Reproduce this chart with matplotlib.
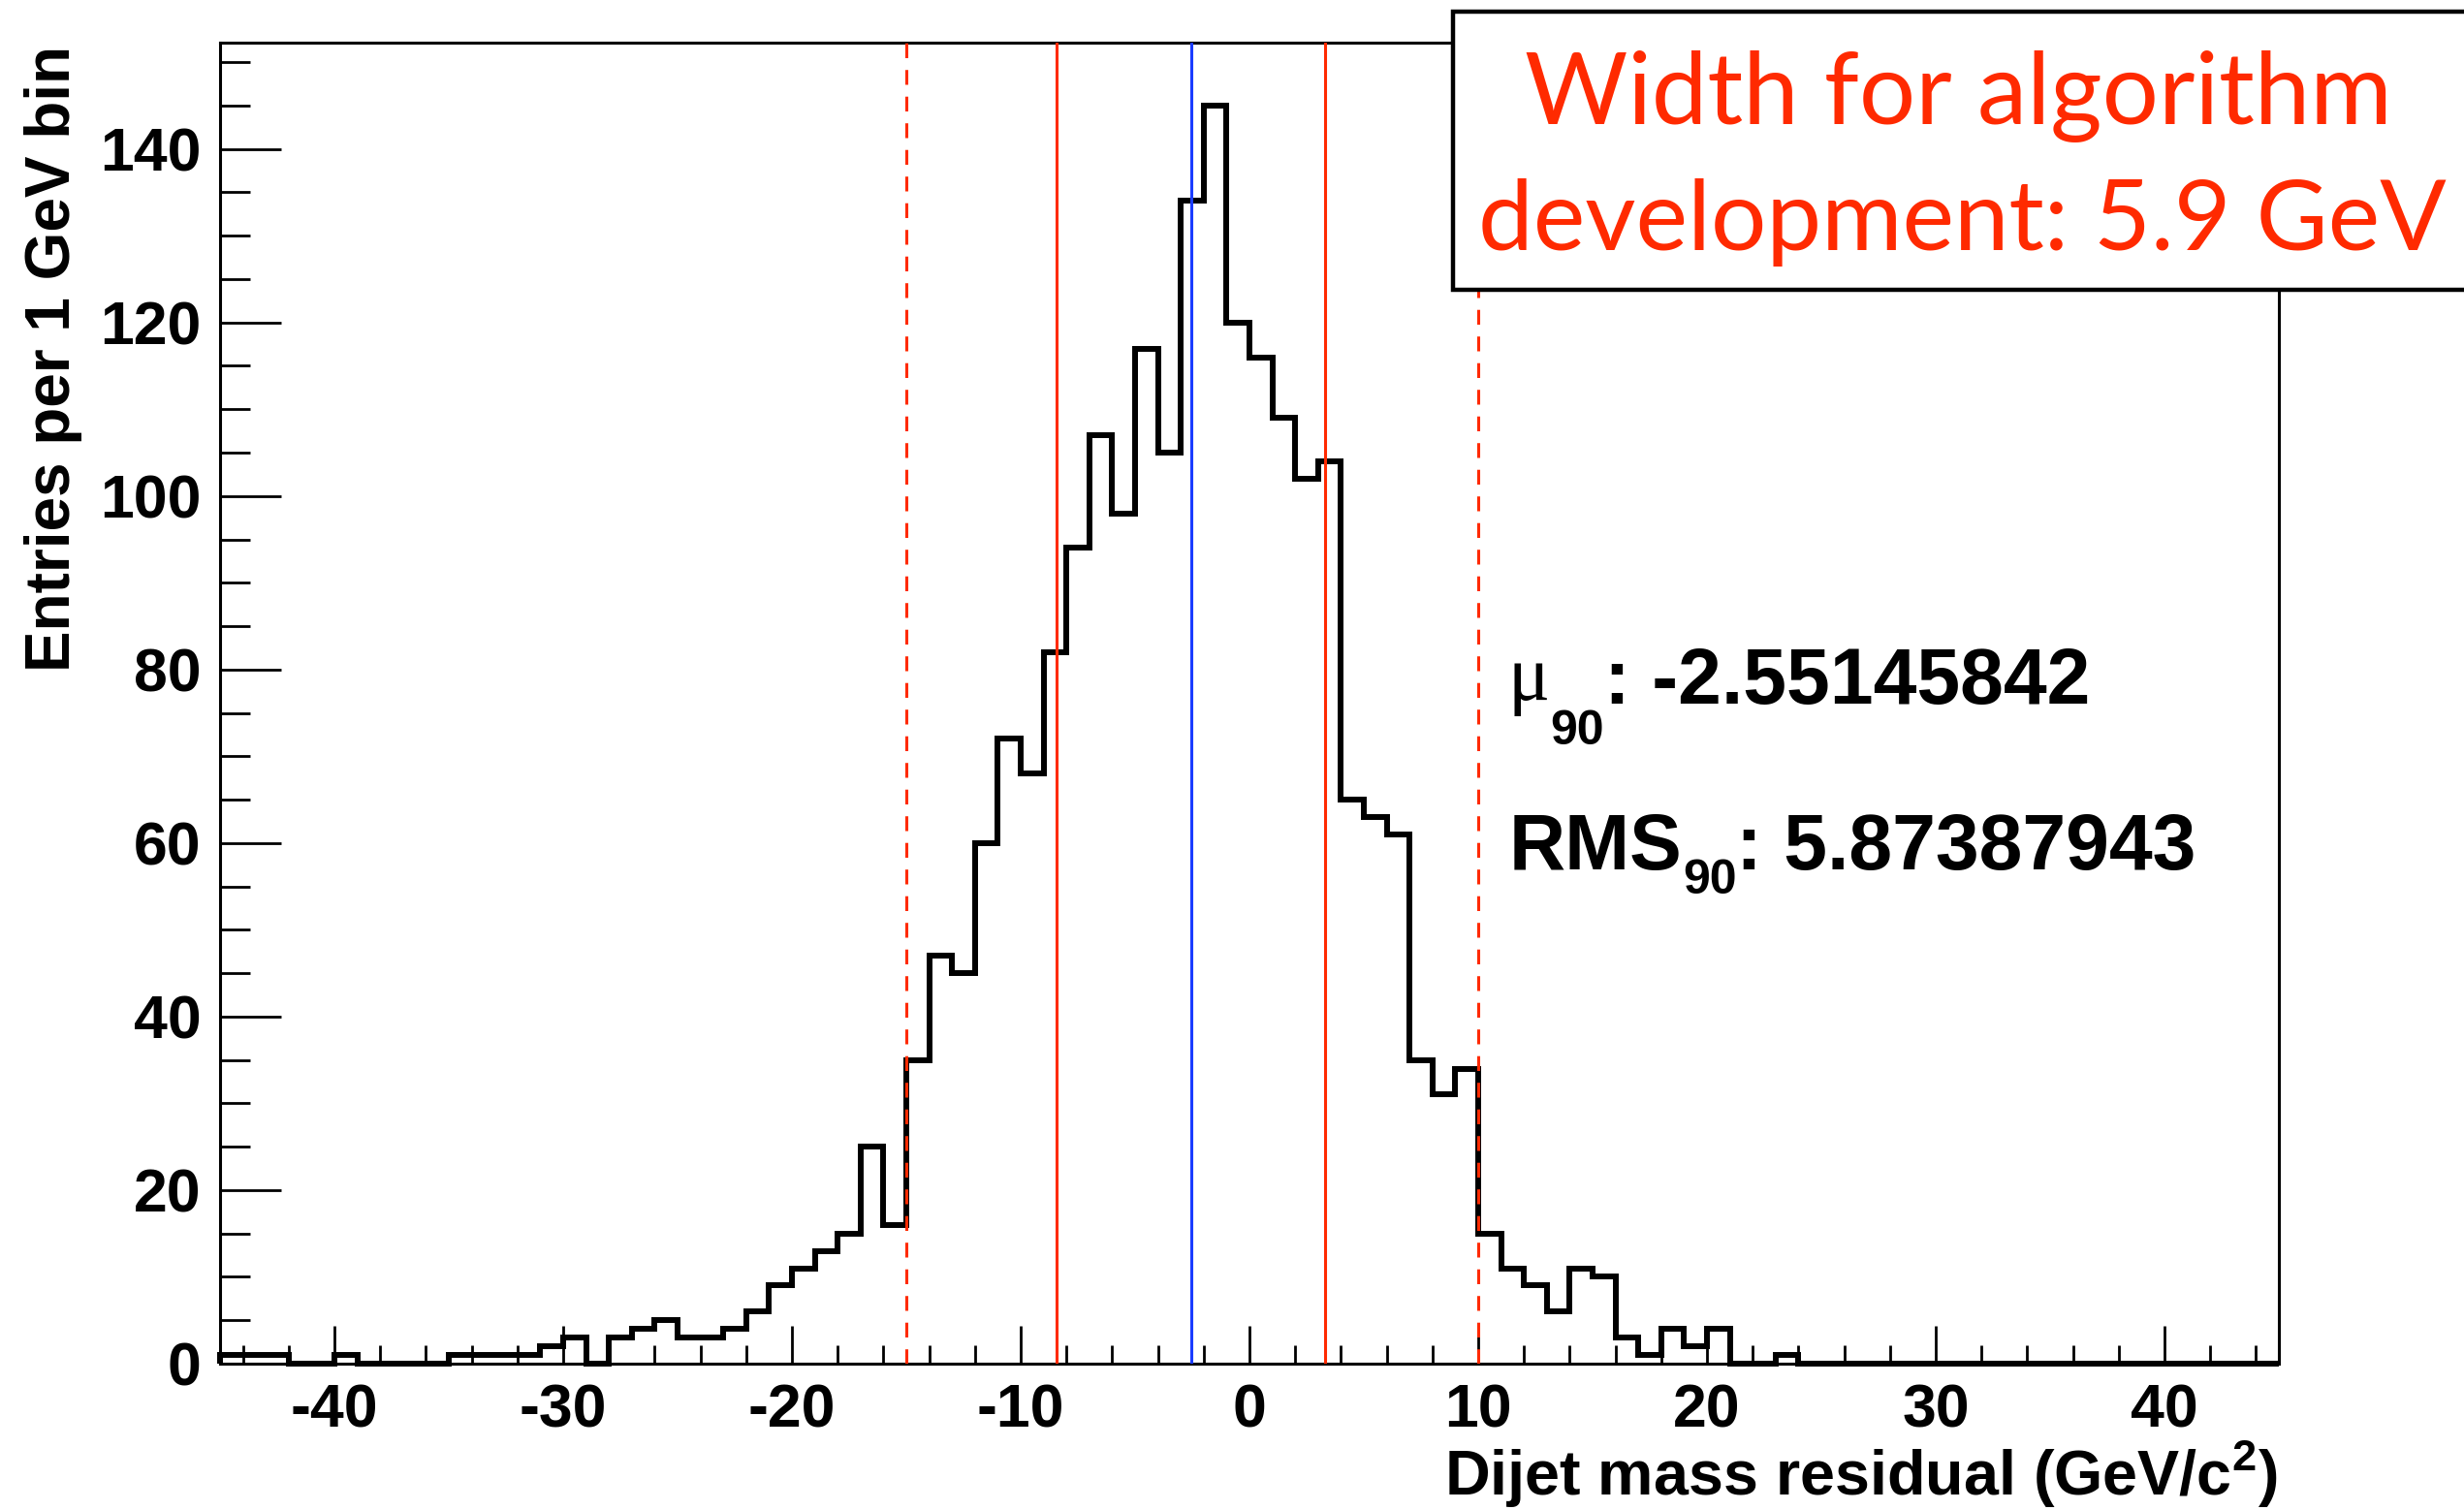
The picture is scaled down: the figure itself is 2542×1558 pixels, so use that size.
import numpy as np
import matplotlib
matplotlib.use("Agg")
import matplotlib.pyplot as plt
from matplotlib.patches import Rectangle

plt.rcParams['font.family'] = ['Liberation Sans', 'DejaVu Sans']
plt.rcParams['font.weight'] = 'bold'
plt.rcParams['axes.unicode_minus'] = False
plt.rcParams['mathtext.fontset'] = 'custom'
plt.rcParams['mathtext.rm'] = 'Liberation Sans'

# dijet mass residual histogram, 1 GeV bins from -45 to 45
bin_edges = np.arange(-45, 46)
counts = [
    1, 1, 1, 0, 0, 1, 0, 0, 0, 0,
    1, 1, 1, 1, 2, 3, 0, 3, 4, 5,
    3, 3, 4, 6, 9, 11, 13, 15, 25, 16,
    35, 47, 45, 60, 72, 68, 82, 94, 107, 98,
    117, 105, 134, 145, 120, 116, 109, 102, 104, 65,
    63, 61, 35, 31, 34, 15, 11, 9, 6, 11,
    10, 3, 1, 4, 2, 4, 0, 0, 1, 0,
    0, 0, 0, 0, 0, 0, 0, 0, 0, 0,
    0, 0, 0, 0, 0, 0, 0, 0, 0, 0,
]
mu90 = -2.55145842
rms90 = 5.87387943
window_lo = -15.0
window_hi = 10.0

RED = '#ff2a00'
BLUE = '#1a3cff'

W, H = 2542, 1558
fig = plt.figure(figsize=(W / 100, H / 100), dpi=100)
ax = fig.add_axes([227 / W, 1 - 1407 / H, (2351 - 227) / W, (1407 - 44) / H])

ax.stairs(counts, bin_edges, color='black', lw=4.3, baseline=0, clip_on=False, zorder=2)

# red/blue marker lines on top of the histogram
ax.axvline(window_lo, color=RED, lw=2.2, ls=(0, (5, 4)), zorder=3)
ax.axvline(window_hi, color=RED, lw=2.2, ls=(0, (5, 4)), zorder=3)
ax.axvline(mu90 - rms90, color=RED, lw=2.2, zorder=3)
ax.axvline(mu90 + rms90, color=RED, lw=2.2, zorder=3)
ax.axvline(mu90, color=BLUE, lw=2.2, zorder=3)

ax.set_xlim(-45, 45)
ax.set_ylim(0, 1.05 * max(counts))

ax.set_xticks(np.arange(-40, 41, 10))
ax.set_xticks(np.arange(-44, 45, 2), minor=True)
ax.set_yticks(np.arange(0, 141, 20))
ax.set_yticks(np.arange(0, 151, 5), minor=True)

ax.tick_params(axis='both', which='both', direction='in', width=2, labelsize=45, pad=14,
               top=False, right=False)
ax.tick_params(axis='x', which='major', length=28)
ax.tick_params(axis='x', which='minor', length=14)
ax.tick_params(axis='y', which='major', length=45)
ax.tick_params(axis='y', which='minor', length=22)
for lab in ax.get_xticklabels() + ax.get_yticklabels():
    lab.set_fontweight('bold')
for sp in ax.spines.values():
    sp.set_linewidth(2.2)

# axis titles, ROOT style (right / top aligned)
fig.text(85 / W, 1 - 47 / H, 'Entries per 1 GeV bin', rotation=90, ha='right', va='top',
         fontsize=46, fontweight='bold')
fig.text(2350 / W, 1 - 1543 / H, r'Dijet mass residual (GeV/c$^{\mathrm{2}}$)', ha='right',
         va='baseline', fontsize=46.5, fontweight='bold')

# mu_90 / RMS_90 annotations built piece by piece
renderer = fig.canvas.get_renderer()


def chain(pieces, x_px, y_px):
    x = x_px
    for s, kw, dy in pieces:
        t = fig.text(x / W, 1 - (y_px + dy) / H, s, ha='left', va='baseline', **kw)
        bb = t.get_window_extent(renderer)
        x = bb.x1


big = dict(fontsize=58, fontweight='bold')
sub = dict(fontsize=36, fontweight='bold')
chain([('μ', dict(fontsize=58, fontweight='normal', family='Liberation Serif'), -4),
       ('90', sub, 42),
       (': %.8f' % mu90, big, 0)], 1556, 726)
chain([('RMS', big, 0),
       ('90', sub, 25),
       (': %.8f' % rms90, big, 0)], 1557, 897)

# boxed note in the top-right corner
box = Rectangle((1499 / W, 1 - 299 / H), 0.5, (299 - 12) / H, transform=fig.transFigure,
                facecolor='white', edgecolor='black', lw=3.2, zorder=5, clip_on=False)
fig.add_artist(box)
fig.text(2020 / W, 1 - 128 / H, 'Width for algorithm', ha='center', va='baseline',
         color=RED, fontsize=74, fontweight='normal', family='Lato', zorder=6)
fig.text(2024 / W, 1 - 258 / H, 'development: 5.9 GeV', ha='center', va='baseline',
         color=RED, fontsize=73, fontweight='normal', family='Lato', zorder=6)

fig.savefig('out.png', dpi=100)
